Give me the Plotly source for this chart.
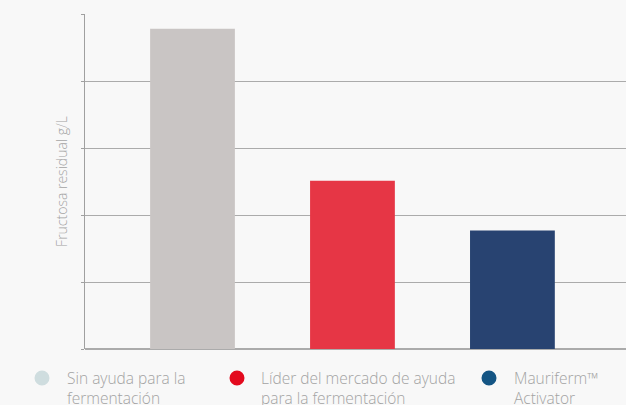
import plotly.graph_objects as go

categories = ["Sin ayuda para la fermentación",
              "Líder del mercado de ayuda para la fermentación",
              "Mauriferm™ Activator"]
values = [4.78, 2.51, 1.77]
bar_colors = ["#C9C5C4", "#E63645", "#284371"]

legend_labels = ["Sin ayuda para la<br>fermentación",
                 "Líder del mercado de ayuda<br>para la fermentación",
                 "Mauriferm™<br>Activator"]
legend_colors = ["#CFDDDF", "#E30A1E", "#145584"]

fig = go.Figure()
fig.add_trace(go.Bar(
    x=[0, 1, 2], y=values,
    marker=dict(color=bar_colors, line=dict(width=0)),
    width=0.53,
    showlegend=False,
    hoverinfo="skip",
))

W, H = 626, 405
ml, mr, mt, mb = 85, 0, 14, 56
pw = W - ml - mr
ph = H - mt - mb

def px_x(p):
    return (p - ml) / pw

def px_y(p):
    return (H - mb - p) / ph

# legend drawn as circles + text below the plot
circle_x = [42, 237, 489]
text_x = [65, 259, 512]
for cx, tx, lab, col in zip(circle_x, text_x, legend_labels, legend_colors):
    r = 7.5
    fig.add_shape(type="circle", xref="paper", yref="paper",
                  x0=px_x(cx - r), x1=px_x(cx + r),
                  y0=px_y(378 + r), y1=px_y(378 - r),
                  fillcolor=col, line=dict(width=0))
    fig.add_annotation(xref="paper", yref="paper",
                       x=px_x(tx), y=px_y(365), xanchor="left", yanchor="top",
                       text=lab, showarrow=False, align="left",
                       font=dict(family="Open Sans", size=15.5, color="#A3A3A3", weight=300))

fig.update_layout(
    width=W, height=H,
    margin=dict(l=ml, r=mr, t=mt, b=mb),
    paper_bgcolor="#F8F8F8",
    plot_bgcolor="#F8F8F8",
    bargap=0.47,
    xaxis=dict(range=[-0.672, 2.71], showticklabels=False, showgrid=False,
               zeroline=False, showline=False, ticks=""),
    yaxis=dict(range=[0, 5], dtick=1, showticklabels=False,
               showgrid=True, gridcolor="#ABABAB", gridwidth=1,
               zeroline=True, zerolinecolor="#ABABAB", zerolinewidth=1.5,
               showline=True, linecolor="#A0A0A0", linewidth=1,
               ticks="outside", ticklen=3, tickcolor="#A0A0A0",
               title=dict(text="Fructosa residual g/L", standoff=10,
                          font=dict(family="Open Sans", size=14, color="#A3A3A3", weight=300))),
    showlegend=False,
)

fig.write_html("out.html", config={"displayModeBar": False},
               post_script="document.body.style.margin='0';")
